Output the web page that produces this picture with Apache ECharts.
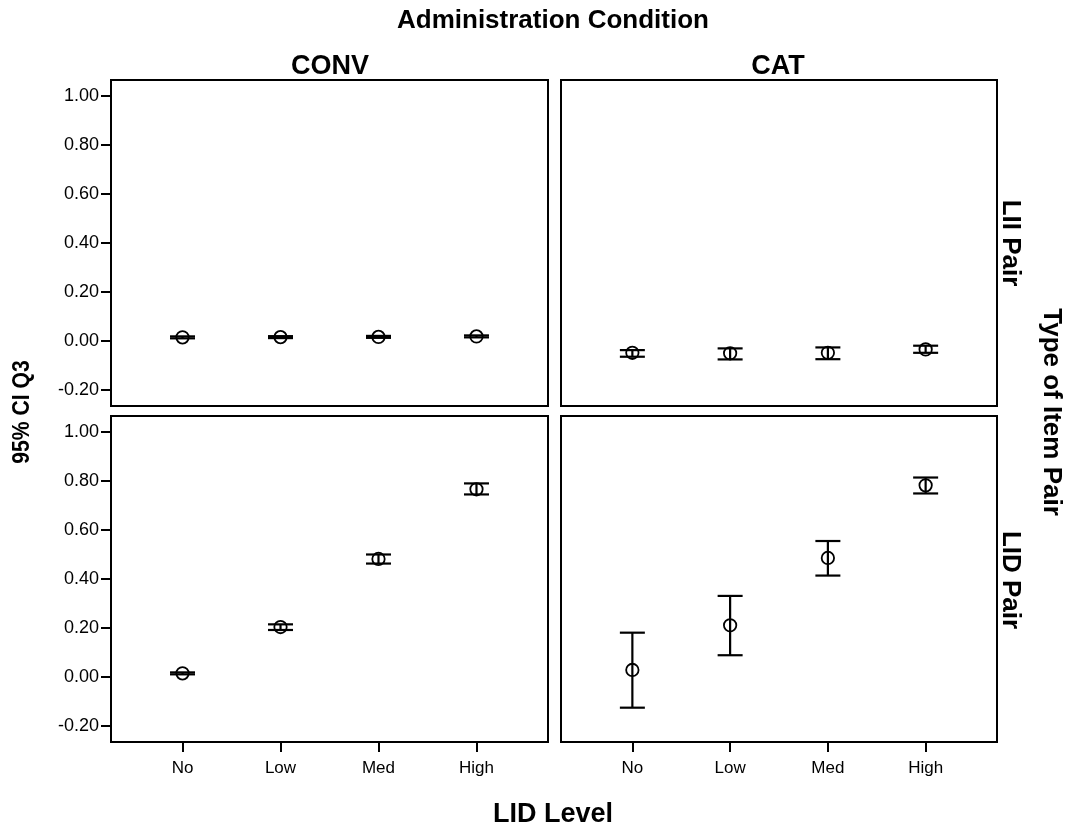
<!DOCTYPE html>
<html>
<head>
<meta charset="utf-8">
<script src="https://cdn.jsdelivr.net/npm/echarts@6/dist/echarts.min.js"></script>
<style>
  html, body { margin: 0; padding: 0; background: #fff; }
  #chart { width: 1073px; height: 829px; }
</style>
</head>
<body>
<div id="chart"></div>
<script>
// LID level categories along the x axis
const lidLevels = ['No', 'Low', 'Med', 'High'];
// y tick values shared by all panels
const yTickValues = [-0.2, 0, 0.2, 0.4, 0.6, 0.8, 1.0];

// Mean Q3 and 95% CI bounds, per administration condition and item pair type
const convLiiMean  = [0.015, 0.016, 0.017, 0.019];
const convLiiLower = [0.011, 0.012, 0.013, 0.015];
const convLiiUpper = [0.019, 0.020, 0.021, 0.023];

const catLiiMean  = [-0.048, -0.050, -0.048, -0.034];
const catLiiLower = [-0.064, -0.075, -0.074, -0.048];
const catLiiUpper = [-0.037, -0.030, -0.026, -0.019];

const convLidMean  = [0.015, 0.204, 0.482, 0.766];
const convLidLower = [0.011, 0.192, 0.463, 0.745];
const convLidUpper = [0.019, 0.215, 0.500, 0.790];

const catLidMean  = [0.029, 0.211, 0.486, 0.782];
const catLidLower = [-0.125, 0.089, 0.414, 0.749];
const catLidUpper = [0.181, 0.331, 0.555, 0.814];

const panels = [
  { mean: convLiiMean, lower: convLiiLower, upper: convLiiUpper, left: 111, top: 80, width: 437, showY: true,  showX: false },
  { mean: catLiiMean,  lower: catLiiLower,  upper: catLiiUpper,  left: 561, top: 80, width: 436, showY: false, showX: false },
  { mean: convLidMean, lower: convLidLower, upper: convLidUpper, left: 111, top: 416, width: 437, showY: true,  showX: true },
  { mean: catLidMean,  lower: catLidLower,  upper: catLidUpper,  left: 561, top: 416, width: 436, showY: false, showX: true }
];

const tickValuesX = lidLevels.map((_, i) => i);
const ink = '#000';

const grids = [], xAxes = [], yAxes = [], series = [];

panels.forEach((p, i) => {
  grids.push({
    left: p.left, top: p.top, width: p.width, height: 326,
    show: true, borderColor: ink, borderWidth: 2, backgroundColor: 'transparent'
  });
  xAxes.push({
    type: 'value', gridIndex: i, min: -0.73, max: 3.73, position: 'bottom',
    splitLine: { show: false },
    axisLine: { show: false, onZero: false },
    axisTick: { show: p.showX, customValues: tickValuesX, length: 10, lineStyle: { color: ink, width: 2 } },
    axisLabel: {
      show: p.showX, customValues: tickValuesX,
      formatter: v => lidLevels[Math.round(v)],
      color: ink, fontSize: 17, fontFamily: '"Liberation Sans", Arial, sans-serif',
      margin: 18
    }
  });
  yAxes.push({
    type: 'value', gridIndex: i, min: -0.265, max: 1.065, position: 'left',
    splitLine: { show: false },
    axisLine: { show: false, onZero: false },
    axisTick: { show: p.showY, customValues: yTickValues, length: 10, lineStyle: { color: ink, width: 2 } },
    axisLabel: {
      show: p.showY, customValues: yTickValues,
      formatter: v => v.toFixed(2),
      color: ink, fontSize: 18, fontFamily: '"Liberation Sans", Arial, sans-serif',
      margin: 12
    }
  });
  const rows = p.mean.map((m, k) => [k, p.lower[k], p.upper[k], m]);
  series.push({
    type: 'custom', xAxisIndex: i, yAxisIndex: i,
    data: rows,
    encode: { x: 0, y: [1, 2, 3] },
    silent: true,
    renderItem: (params, api) => {
      const x = api.value(0);
      const lo = api.coord([x, api.value(1)]);
      const hi = api.coord([x, api.value(2)]);
      const mid = api.coord([x, api.value(3)]);
      const half = 12.5;
      const stroke = { stroke: ink, lineWidth: 2.2, fill: null };
      return {
        type: 'group',
        children: [
          { type: 'line', shape: { x1: lo[0], y1: lo[1], x2: hi[0], y2: hi[1] }, style: stroke },
          { type: 'line', shape: { x1: lo[0] - half, y1: lo[1], x2: lo[0] + half, y2: lo[1] }, style: stroke },
          { type: 'line', shape: { x1: hi[0] - half, y1: hi[1], x2: hi[0] + half, y2: hi[1] }, style: stroke },
          { type: 'circle', shape: { cx: mid[0], cy: mid[1], r: 6.2 }, style: { stroke: ink, lineWidth: 1.8, fill: null } }
        ]
      };
    }
  });
});

const titleFont = '"Liberation Sans", Arial, sans-serif';
function label(text, x, y, size, rotation, stretch) {
  return {
    type: 'text', x: x, y: y, rotation: rotation || 0, scaleX: stretch || 1,
    style: {
      text: text, fill: ink, font: 'bold ' + size + 'px ' + titleFont,
      textAlign: 'center', textVerticalAlign: 'middle'
    }
  };
}

const chart = echarts.init(document.getElementById('chart'), null, { renderer: 'canvas' });
chart.setOption({
  animation: false,
  backgroundColor: '#fff',
  grid: grids,
  xAxis: xAxes,
  yAxis: yAxes,
  series: series,
  graphic: [
    label('Administration Condition', 553, 21, 26),
    label('CONV', 330, 67, 27),
    label('CAT', 778, 67, 27),
    label('95% CI Q3', 22, 412, 24, Math.PI / 2, 0.88),
    label('LII Pair', 1010, 243, 26, -Math.PI / 2),
    label('LID Pair', 1010, 580, 26, -Math.PI / 2),
    label('Type of Item Pair', 1051, 412, 26, -Math.PI / 2),
    label('LID Level', 553, 815, 27)
  ]
});
</script>
</body>
</html>
